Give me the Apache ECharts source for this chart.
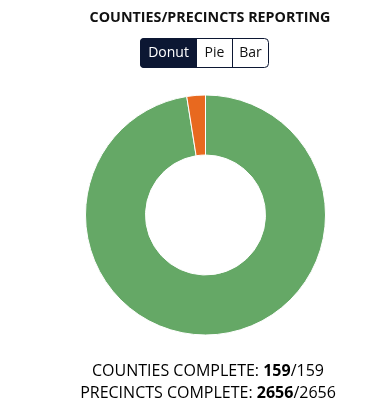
<!DOCTYPE html>
<html>
<head>
<meta charset="utf-8">
<script src="https://cdn.jsdelivr.net/npm/echarts@6/dist/echarts.min.js"></script>
<style>
  html, body { margin: 0; padding: 0; background: #ffffff; }
  #chart { width: 375px; height: 416px; }
</style>
</head>
<body>
<div id="chart"></div>
<script>
// ---- data ----
var titleText = 'COUNTIES/PRECINCTS REPORTING';
var buttonLabels = ['Donut', 'Pie', 'Bar'];
var sliceNames = ['Complete', 'Remaining'];
var sliceValues = [97.5, 2.5];
var sliceColors = ['#65a866', '#e8691f'];
var countiesDone = 159;
var countiesTotal = 159;
var precinctsDone = 2656;
var precinctsTotal = 2656;

var FONT = '"Open Sans", "Noto Sans", sans-serif';
var NAVY = '#0c1733';

var chart = echarts.init(document.getElementById('chart'), null, { renderer: 'canvas' });

// button geometry
var btnX = [140, 197, 232, 269];
var btnTop = 38, btnH = 30;
var buttons = [];
buttons.push({
  type: 'rect', shape: { x: btnX[0] + 0.5, y: btnTop + 0.5, width: btnX[3] - btnX[0] - 1, height: btnH - 1, r: 4 },
  style: { fill: '#ffffff', stroke: NAVY, lineWidth: 1 }, z: 10
});
buttons.push({
  type: 'rect', shape: { x: btnX[0], y: btnTop, width: btnX[1] - btnX[0], height: btnH, r: [4, 0, 0, 4] },
  style: { fill: NAVY }, z: 11
});
buttons.push({
  type: 'line', shape: { x1: btnX[2] + 0.5, y1: btnTop, x2: btnX[2] + 0.5, y2: btnTop + btnH },
  style: { stroke: NAVY, lineWidth: 1 }, z: 11
});
for (var i = 0; i < buttonLabels.length; i++) {
  buttons.push({
    type: 'text',
    x: (btnX[i] + btnX[i + 1]) / 2,
    y: btnTop + btnH / 2,
    style: {
      text: buttonLabels[i],
      fill: i === 0 ? '#ffffff' : '#111111',
      font: '14px ' + FONT,
      align: 'center', verticalAlign: 'middle'
    },
    z: 12
  });
}

var richStyles = {
  n: { fontFamily: FONT, fontSize: 16, color: '#111111' },
  b: { fontFamily: FONT, fontSize: 16, fontWeight: 'bold', color: '#111111' }
};

var option = {
  backgroundColor: '#ffffff',
  animation: false,
  title: {
    text: titleText,
    left: 205, top: 6,
    textAlign: 'center',
    textStyle: { fontFamily: FONT, fontSize: 14.3, fontWeight: 'bold', color: '#111111' }
  },
  series: [{
    type: 'pie',
    center: [205.5, 215],
    radius: [60, 120],
    startAngle: 90,
    clockwise: true,
    label: { show: false },
    labelLine: { show: false },
    itemStyle: { borderColor: '#ffffff', borderWidth: 1 },
    emphasis: { disabled: true },
    data: sliceNames.map(function (n, i) {
      return { name: n, value: sliceValues[i], itemStyle: { color: sliceColors[i] } };
    })
  }],
  graphic: buttons.concat([
    {
      type: 'text', x: 208, y: 371,
      style: {
        text: '{n|COUNTIES COMPLETE: }{b|' + countiesDone + '}{n|/' + countiesTotal + '}',
        rich: richStyles, align: 'center', verticalAlign: 'middle'
      }
    },
    {
      type: 'text', x: 208, y: 393,
      style: {
        text: '{n|PRECINCTS COMPLETE: }{b|' + precinctsDone + '}{n|/' + precinctsTotal + '}',
        rich: richStyles, align: 'center', verticalAlign: 'middle'
      }
    }
  ])
};

chart.setOption(option);
</script>
</body>
</html>
